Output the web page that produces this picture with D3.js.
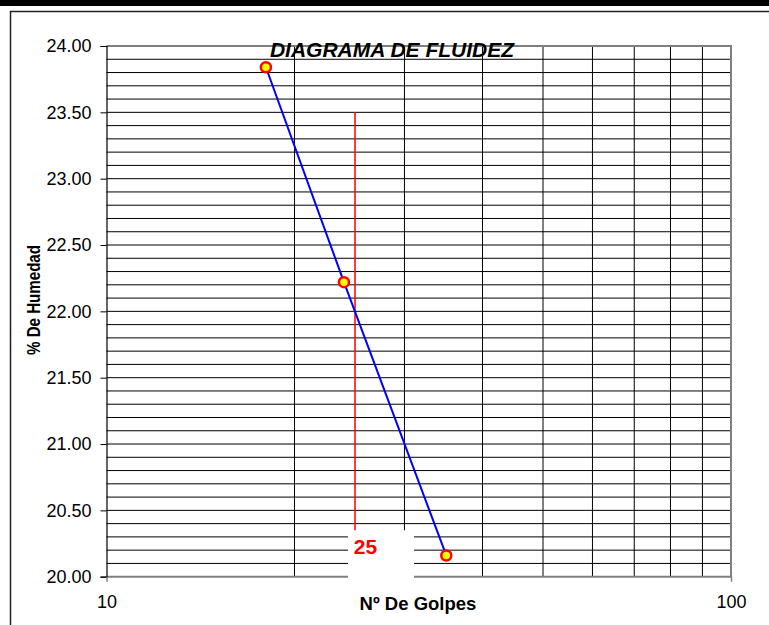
<!DOCTYPE html>
<html>
<head>
<meta charset="utf-8">
<script src="https://cdn.jsdelivr.net/npm/d3@7"></script>
<style>
  html, body { margin: 0; padding: 0; background: #fff; }
  svg { display: block; font-family: Arial, "Liberation Sans", Helvetica, sans-serif; }
</style>
</head>
<body>
<svg id="chart" width="769" height="625"></svg>
<script>
// Casagrande flow curve: moisture content vs number of blows (log scale)
const blows = [18, 24, 35];
const moisture = [23.84, 22.22, 20.16];
const xTickValues = [10, 100];
const xGridValues = [20, 30, 40, 50, 60, 70, 80, 90];
const yTickValues = [20.0, 20.5, 21.0, 21.5, 22.0, 22.5, 23.0, 23.5, 24.0];
const yGridValues = d3.range(1, 40).map(i => +(20 + i * 0.1).toFixed(1));
const limitBlows = 25;
const limitRange = [20.35, 23.5];

const svg = d3.select("#chart");
const W = 769, H = 625;
const plot = { left: 106.5, right: 731, top: 46, bottom: 576.7 };

const x = d3.scaleLog().domain([10, 100]).range([plot.left, plot.right]);
const y = d3.scaleLinear().domain([20, 24]).range([plot.bottom, plot.top]);

// page frame
svg.append("rect").attr("x", 0).attr("y", 0).attr("width", W).attr("height", 6).attr("fill", "#000");
svg.append("path").attr("d", `M10.5,${H} V11.5 H${W}`).attr("fill", "none").attr("stroke", "#222").attr("stroke-width", 1.5);

// gridlines
const grid = svg.append("g").attr("stroke", "#000").attr("stroke-width", 1);
grid.selectAll("line.h").data(yGridValues).join("line").attr("class", "h")
  .attr("x1", plot.left).attr("x2", plot.right)
  .attr("y1", d => y(d)).attr("y2", d => y(d));
grid.selectAll("line.v").data(xGridValues).join("line").attr("class", "v")
  .attr("y1", plot.top).attr("y2", plot.bottom)
  .attr("x1", d => x(d)).attr("x2", d => x(d));

// plot border (top, right, bottom)
svg.append("path")
  .attr("d", `M${plot.left},${plot.top} H${plot.right} V${plot.bottom} H${plot.left}`)
  .attr("fill", "none").attr("stroke", "#808080").attr("stroke-width", 2);

// y axis
const yAxis = svg.append("g").attr("transform", `translate(${plot.left},0)`)
  .call(d3.axisLeft(y).tickValues(yTickValues).tickFormat(d3.format(".2f")).tickSize(6).tickPadding(9));
yAxis.select(".domain").attr("stroke", "#000").attr("stroke-width", 1.2);
yAxis.selectAll(".tick line").attr("stroke", "#000");
yAxis.selectAll(".tick text").attr("font-size", 18).attr("fill", "#000").attr("font-family", "Arial, 'Liberation Sans', sans-serif");

// x axis
const xAxis = svg.append("g").attr("transform", `translate(0,${plot.bottom})`)
  .call(d3.axisBottom(x).tickValues(xTickValues).tickFormat(d3.format("d")).tickSize(5).tickPadding(14));
xAxis.select(".domain").remove();
xAxis.selectAll(".tick line").attr("stroke", "#808080").attr("stroke-width", 1.5);
xAxis.selectAll(".tick text").attr("font-size", 18).attr("fill", "#000").attr("font-family", "Arial, 'Liberation Sans', sans-serif");

// reference line at 25 blows with its label box
const xl = x(limitBlows);
svg.append("rect").attr("x", xl - 7).attr("y", y(limitRange[0]))
  .attr("width", 66).attr("height", 62).attr("fill", "#fff");
svg.append("line")
  .attr("x1", xl).attr("x2", xl)
  .attr("y1", y(limitRange[1])).attr("y2", y(limitRange[0]))
  .attr("stroke", "#ff0000").attr("stroke-width", 1.5);
svg.append("text").attr("x", xl + 10.5).attr("y", 554)
  .attr("text-anchor", "middle").attr("font-size", 21).attr("font-weight", "bold")
  .attr("fill", "#ff0000").text(limitBlows);

// flow curve
const pts = blows.map((b, i) => [b, moisture[i]]);
svg.append("path").datum(pts)
  .attr("d", d3.line().x(d => x(d[0])).y(d => y(d[1])))
  .attr("fill", "none").attr("stroke", "#0000ff").attr("stroke-width", 2);
svg.selectAll("circle.pt").data(pts).join("circle").attr("class", "pt")
  .attr("cx", d => x(d[0])).attr("cy", d => y(d[1])).attr("r", 5)
  .attr("fill", "#ffff00").attr("stroke", "#ff0000").attr("stroke-width", 2.5);

// titles
svg.append("text").attr("x", 392).attr("y", 56.5)
  .attr("text-anchor", "middle").attr("font-size", 21)
  .attr("font-weight", "bold").attr("font-style", "italic")
  .text("DIAGRAMA DE FLUIDEZ");
svg.append("text").attr("x", 418).attr("y", 610)
  .attr("text-anchor", "middle").attr("font-size", 18.5).attr("font-weight", "bold")
  .text("Nº De Golpes");
svg.append("text")
  .attr("transform", "translate(40,300) rotate(-90)")
  .attr("text-anchor", "middle").attr("font-size", 18).attr("font-weight", "bold")
  .attr("textLength", 110).attr("lengthAdjust", "spacingAndGlyphs")
  .text("% De Humedad");
</script>
</body>
</html>
